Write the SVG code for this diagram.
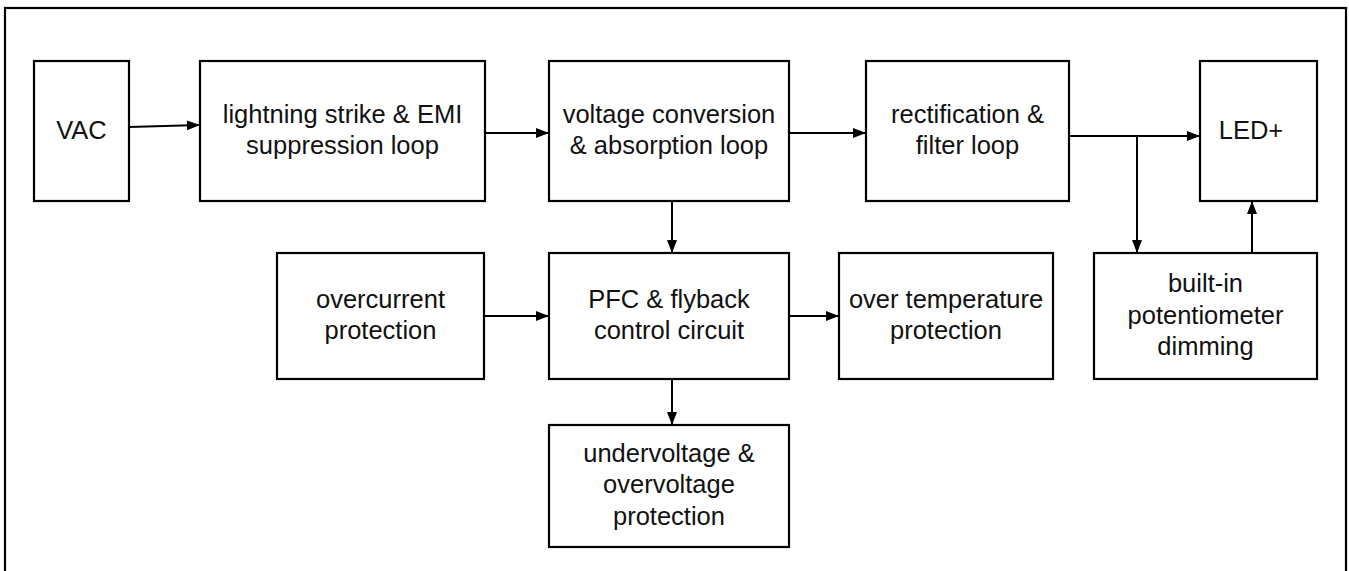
<svg xmlns="http://www.w3.org/2000/svg" width="1349" height="571" viewBox="0 0 1349 571">
<style>
.box{fill:#fff;stroke:#000;stroke-width:2.2}
.t{font-family:"Liberation Sans",Arial,sans-serif;font-size:25.5px;fill:#111;text-anchor:middle}
.c{fill:none;stroke:#000;stroke-width:2}
</style>
<defs>
<marker id="ah" markerUnits="userSpaceOnUse" markerWidth="13" markerHeight="12" viewBox="0 0 13 12" refX="13" refY="6" orient="auto">
<path d="M0,1 L13,6 L0,11 Z" fill="#000"/>
</marker>
</defs>
<rect x="0" y="0" width="1349" height="571" fill="#fff"/>
<rect x="5" y="8" width="1341" height="580" fill="none" stroke="#000" stroke-width="2.2"/>
<g id="vac"><rect class="box" x="34" y="61" width="95" height="140"/><text class="t" x="81.5" y="139">VAC</text></g>
<g id="lightning"><rect class="box" x="200" y="61" width="285" height="140"/><text class="t" x="342.5" y="123">lightning strike &amp; EMI</text><text class="t" x="342.5" y="154">suppression loop</text></g>
<g id="voltage"><rect class="box" x="549" y="61" width="240" height="140"/><text class="t" x="669" y="123">voltage conversion</text><text class="t" x="669" y="154">&amp; absorption loop</text></g>
<g id="rectification"><rect class="box" x="866" y="61" width="203" height="140"/><text class="t" x="967.5" y="123">rectification &amp;</text><text class="t" x="967.5" y="154">filter loop</text></g>
<g id="led"><rect class="box" x="1200" y="61" width="117" height="140"/><text class="t" x="1251" y="139">LED+</text></g>
<g id="overcurrent"><rect class="box" x="277" y="253" width="207" height="126"/><text class="t" x="380.5" y="308">overcurrent</text><text class="t" x="380.5" y="339">protection</text></g>
<g id="pfc"><rect class="box" x="549" y="253" width="240" height="126"/><text class="t" x="669" y="308">PFC &amp; flyback</text><text class="t" x="669" y="339">control circuit</text></g>
<g id="overtemp"><rect class="box" x="839" y="253" width="214" height="126"/><text class="t" x="946" y="308">over temperature</text><text class="t" x="946" y="339">protection</text></g>
<g id="dimming"><rect class="box" x="1094" y="253" width="223" height="126"/><text class="t" x="1205.5" y="292">built-in</text><text class="t" x="1205.5" y="324">potentiometer</text><text class="t" x="1205.5" y="355">dimming</text></g>
<g id="under"><rect class="box" x="549" y="425" width="240" height="122"/><text class="t" x="669" y="462">undervoltage &amp;</text><text class="t" x="669" y="493">overvoltage</text><text class="t" x="669" y="525">protection</text></g>
<g id="connectors">
<line class="c" x1="129" y1="127" x2="200" y2="125" marker-end="url(#ah)"/>
<line class="c" x1="485" y1="133" x2="549" y2="133" marker-end="url(#ah)"/>
<line class="c" x1="789" y1="133" x2="866" y2="133" marker-end="url(#ah)"/>
<line class="c" x1="1069" y1="136" x2="1200" y2="136" marker-end="url(#ah)"/>
<line class="c" x1="1137" y1="136" x2="1137" y2="253" marker-end="url(#ah)"/>
<line class="c" x1="1252" y1="253" x2="1252" y2="201" marker-end="url(#ah)"/>
<line class="c" x1="672" y1="201" x2="672" y2="253" marker-end="url(#ah)"/>
<line class="c" x1="484" y1="316" x2="549" y2="316" marker-end="url(#ah)"/>
<line class="c" x1="789" y1="316" x2="839" y2="316" marker-end="url(#ah)"/>
<line class="c" x1="672" y1="379" x2="672" y2="425" marker-end="url(#ah)"/>
</g>
</svg>
